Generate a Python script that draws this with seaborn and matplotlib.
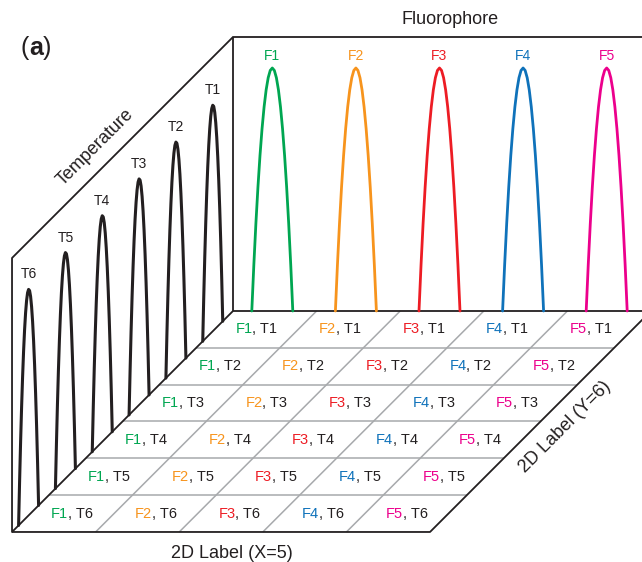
import numpy as np
import pandas as pd
import matplotlib
matplotlib.use("Agg")
import matplotlib.pyplot as plt
import seaborn as sns
from matplotlib.offsetbox import TextArea, HPacker, AnnotationBbox

sns.set_theme(style="white")
plt.rcParams['font.family'] = ['Liberation Sans', 'DejaVu Sans']

# data
fluor_labels = ["F1", "F2", "F3", "F4", "F5"]
fluor_colors = ["#00a651", "#f7941d", "#ed1c24", "#0f72ba", "#ec008c"]
temp_labels = ["T1", "T2", "T3", "T4", "T5", "T6"]
# one peak shape (offset from centre, relative height)
peak_u = [-1.0, -0.9, -0.8, -0.7, -0.6, -0.5, -0.4, -0.3, -0.2, -0.1, 0.0,
          0.1, 0.2, 0.3, 0.4, 0.5, 0.6, 0.7, 0.8, 0.9, 1.0]
peak_h = [0.0, 0.19, 0.36, 0.51, 0.64, 0.75, 0.84, 0.91, 0.96, 0.99, 1.0,
          0.99, 0.96, 0.91, 0.84, 0.75, 0.64, 0.51, 0.36, 0.19, 0.0]
title_fluor = "Fluorophore"
title_temp = "Temperature"
title_x = "2D Label (X=5)"
title_y = "2D Label (Y=6)"

# layout (pixels)
BACK_X, BACK_Y = 233, 311
COL_W = 83.6
ROW_D = 36.83
WALL_H = 274
F_PEAK_H, F_PEAK_W, F_OFF = 243, 20.5, 0.47
T_PEAK_H, T_PEAK_W, T_OFF = 226, 10, 0.55
GRID_C = "#a7a9ac"
NC, NR = len(fluor_labels), len(temp_labels)


def proj(x, y, z=0):
    """column units x, row units y (depth), height z in px -> screen px"""
    return BACK_X + COL_W * x - ROW_D * y, BACK_Y + ROW_D * y - z


def seg(ax, pts, color="#231f20", lw=1.3):
    xs, ys = zip(*pts)
    ax.plot(xs, ys, color=color, lw=lw, solid_capstyle="butt", zorder=2)


fig = plt.figure(figsize=(6.42, 5.62), dpi=100)
ax = fig.add_axes([0, 0, 1, 1])
ax.set_xlim(0, 642)
ax.set_ylim(562, 0)
ax.axis("off")

# floor grid
for k in range(1, NR):
    seg(ax, [proj(0, k), proj(NC, k)], GRID_C, 1.1)
for i in range(1, NC):
    seg(ax, [proj(i, 0), proj(i, NR)], GRID_C, 1.1)

# frame
seg(ax, [proj(0, 0), proj(0, 0, WALL_H), proj(NC + 0.2, 0, WALL_H)])
seg(ax, [proj(0, 0), proj(NC + 0.2, 0)])
seg(ax, [proj(0, 0, WALL_H), proj(0, NR, WALL_H), proj(0, NR), proj(0, 0)])
seg(ax, [proj(0, NR), proj(NC, NR), proj(NC, 0)])

u = np.array(peak_u)
h = np.array(peak_h)

# fluorophore peaks on back wall
for i, (lab, c) in enumerate(zip(fluor_labels, fluor_colors)):
    cx, _ = proj(i + F_OFF, 0)
    df = pd.DataFrame({"x": cx + F_PEAK_W * u, "y": BACK_Y - F_PEAK_H * h})
    sns.lineplot(data=df, x="x", y="y", color=c, linewidth=2.0, sort=False,
                 estimator=None, ax=ax, zorder=3)
    ax.text(cx, BACK_Y - F_PEAK_H - 5, lab, color=c, fontsize=10,
            ha="center", va="bottom")

# temperature peaks on left wall
for j, lab in enumerate(temp_labels):
    d = j + T_OFF + u * T_PEAK_W / ROW_D
    bx, by = proj(0, d)
    df = pd.DataFrame({"x": bx, "y": by - T_PEAK_H * h})
    sns.lineplot(data=df, x="x", y="y", color="#231f20", linewidth=2.2,
                 sort=False, estimator=None, ax=ax, zorder=3)
    tx, ty = proj(0, j + T_OFF)
    ax.text(tx, ty - T_PEAK_H - 8, lab, color="#231f20", fontsize=10,
            ha="center", va="bottom")

# cell labels
for j, tl in enumerate(temp_labels):
    for i, (fl, c) in enumerate(zip(fluor_labels, fluor_colors)):
        box = HPacker(children=[
            TextArea(fl, textprops=dict(color=c, fontsize=10.5)),
            TextArea(", " + tl, textprops=dict(color="#231f20", fontsize=10.5)),
        ], sep=0, pad=0, align="baseline")
        ab = AnnotationBbox(box, proj(i + 0.5, j + 0.5), xycoords="data",
                            box_alignment=(0.5, 0.5), frameon=False, pad=0)
        ax.add_artist(ab)

# titles
ax.text(450, 20, title_fluor, fontsize=13, ha="center", va="center", color="#231f20")
ax.text(232, 553, title_x, fontsize=13, ha="center", va="center", color="#231f20")
ax.text(95, 147, title_temp, fontsize=13, ha="center", va="center", rotation=45,
        rotation_mode="anchor", color="#231f20")
ax.text(565, 427, title_y, fontsize=13, ha="center", va="center", rotation=45,
        rotation_mode="anchor", color="#231f20")

panel = HPacker(children=[
    TextArea("(", textprops=dict(fontsize=18, color="#231f20")),
    TextArea("a", textprops=dict(fontsize=18, fontweight="bold", color="#231f20")),
    TextArea(")", textprops=dict(fontsize=18, color="#231f20")),
], sep=0, pad=0, align="baseline")
ax.add_artist(AnnotationBbox(panel, (36, 48), xycoords="data",
                             box_alignment=(0.5, 0.5), frameon=False, pad=0))

fig.savefig("out.png", dpi=100)
